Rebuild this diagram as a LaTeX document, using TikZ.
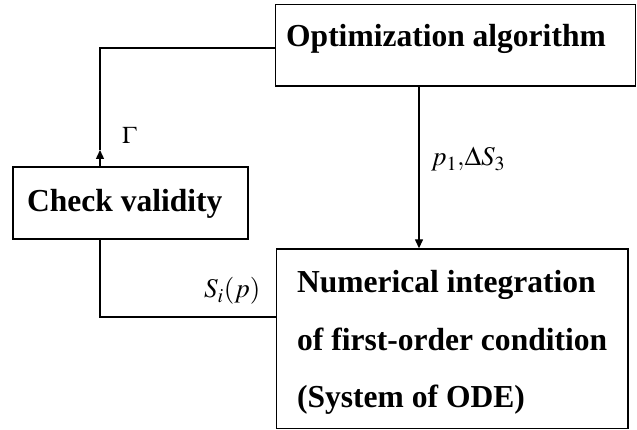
\documentclass[tikz,border=0pt]{standalone}
\usepackage{mathptmx}
\usepackage{fontspec}
\setmainfont{Liberation Serif}
\usetikzlibrary{arrows.meta}
\begin{document}
\begin{tikzpicture}[x=1pt,y=-1pt,
  box/.style={draw,line width=1.4pt,inner sep=0pt},
  title/.style={anchor=base west,inner sep=0pt,font=\fontsize{32}{36}\selectfont\bfseries},
  lab/.style={anchor=base west,inner sep=0pt,font=\fontsize{27}{30}\selectfont},
  conn/.style={line width=1.4pt},
  arr/.style={conn,-{Triangle[length=9pt,width=8pt]}}]
\useasboundingbox (0,0) rectangle (637,430);
% boxes
\node[box,minimum width=360pt,minimum height=81.5pt] (opt) at (455.5,45.25) {};
\node[box,minimum width=235pt,minimum height=72pt] (check) at (130.5,203) {};
\node[box,minimum width=351.5pt,minimum height=179.5pt] (num) at (452.25,338.75) {};
% texts
\node[title] (optt) at (286,47) {\scalebox{0.985}[1]{Optimization algorithm}};
\node[title] (checkt) at (27,212) {\scalebox{0.985}[1]{Check validity}};
\node[title] (num1) at (297,293) {\scalebox{0.985}[1]{Numerical integration}};
\node[title] (num2) at (297,350) {\scalebox{0.985}[1]{of first-order condition}};
\node[title] (num3) at (297,407) {\scalebox{0.985}[1]{(System of ODE)}};
% connectors
\coordinate (gam) at (100,150);
\draw[arr] (check.north -| gam) -- (gam);
\draw[conn] (gam) |- (opt.west |- 0,48);
\draw[arr] (opt.south -| 419,0) -- (num.north -| 419,0);
\draw[conn] (check.south -| gam) |- (num.west |- 0,317);
% labels
\node[lab,font=\fontsize{24}{28}\selectfont] (lg) at (122,144) {$\Gamma$};
\node[lab] (lp) at (431,166) {$p_1,\!\Delta S_3$};
\node[lab] (ls) at (204,298) {$S_i(p)$};
\end{tikzpicture}
\end{document}
